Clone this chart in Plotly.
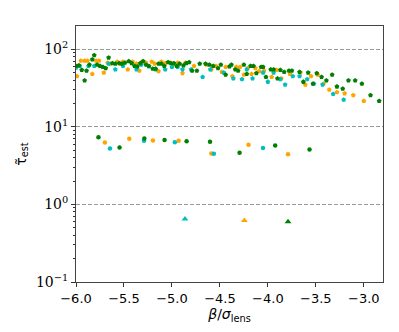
import plotly.graph_objects as go

# top cluster (pentagons)
green_x = [-6.00, -5.97, -5.94, -5.91, -5.89, -5.86, -5.83, -5.81, -5.78, -5.75, -5.72, -5.69, -5.66,
           -5.62, -5.59, -5.55, -5.52, -5.49, -5.45, -5.42, -5.39, -5.36, -5.33, -5.30, -5.27, -5.24,
           -5.20, -5.17, -5.14, -5.11, -5.08, -5.04, -5.01, -4.98, -4.95, -4.92, -4.88, -4.85, -4.82,
           -4.79, -4.74, -4.71, -4.65, -4.61, -4.57, -4.52, -4.49, -4.44, -4.40, -4.38, -4.34, -4.31,
           -4.25, -4.22, -4.18, -4.15, -4.12, -4.07, -4.05, -4.02, -3.97, -3.94, -3.90, -3.87, -3.83,
           -3.78, -3.75, -3.67, -3.63, -3.58, -3.53, -3.49, -3.44, -3.39, -3.33, -3.28, -3.22, -3.16,
           -3.09, -3.02, -2.93, -2.84]
green_y = [61, 62, 54, 39.5, 53, 63, 74, 84, 63, 61, 59, 57, 78,
           66, 65, 66, 65, 67, 70, 66, 61, 60, 66, 70, 63, 61,
           56, 56, 65, 65, 61, 68, 66, 66, 61, 65, 62, 66, 68,
           53, 53, 65, 65, 63, 61, 57, 63, 47, 60, 63, 55, 53,
           63, 48, 61, 61, 49, 59, 59, 44, 55, 55, 42, 54, 51,
           53, 53, 51, 38, 50, 36, 49, 44, 39.5, 47, 33, 31, 39.5,
           39.5, 36, 25.5, 21.5]

orange_x = [-5.99, -5.95, -5.91, -5.88, -5.83, -5.79, -5.76, -5.71, -5.67, -5.64, -5.57, -5.54, -5.51,
            -5.46, -5.41, -5.37, -5.34, -5.31, -5.27, -5.21, -5.18, -5.14, -5.11, -5.07, -5.02, -4.99,
            -4.94, -4.89, -4.86, -4.77, -4.64, -4.59, -4.54, -4.48, -4.44, -4.37, -4.33, -4.29, -4.25,
            -4.21, -4.17, -4.13, -4.09, -4.04, -3.96, -3.91, -3.86, -3.77, -3.66, -3.61, -3.55, -3.48,
            -3.42, -3.36, -3.28, -3.20, -3.11, -3.00]
orange_y = [45, 71, 71, 71, 48, 71, 71, 50, 67, 65, 69, 65, 69,
            55, 69, 65, 53, 69, 67, 69, 65, 52, 69, 66, 67, 63,
            67, 49, 67, 61, 63, 55, 61, 51, 59, 45, 59, 59, 47,
            57, 48, 57, 52, 53, 44, 54, 42, 48, 50, 35, 45, 47,
            36, 30, 28, 27, 25.5, 21.6]

cyan_x = [-6.00, -5.96, -5.87, -5.81, -5.66, -5.59, -5.51, -5.37, -5.32, -5.24, -5.17, -5.07, -5.00,
          -4.94, -4.89, -4.80, -4.68, -4.60, -4.46, -4.36, -4.27, -4.22, -4.16, -4.05, -4.00, -3.94,
          -3.87, -3.82, -3.74, -3.67, -3.59, -3.52, -3.43, -3.32, -3.21]
cyan_y = [58, 61, 61, 61, 65, 55, 61, 55, 63, 60, 55, 55, 59,
          59, 55, 55, 44, 55, 50, 42, 41, 55, 42, 50, 38, 50,
          41, 35, 45, 45, 41, 36, 35, 26.5, 22.3]

# middle cluster (circles)
green_mid_x = [-5.766, -5.546, -5.288, -5.077, -4.847, -4.603, -4.295, -3.924, -3.566]
green_mid_y = [7.36, 5.42, 7.06, 6.79, 6.54, 6.41, 4.63, 5.74, 5.10]
orange_mid_x = [-5.699, -5.445, -5.198, -4.930, -4.589, -4.202, -3.790]
orange_mid_y = [6.28, 7.01, 6.67, 6.61, 4.53, 5.87, 4.45]
cyan_mid_x = [-5.646, -5.291, -4.970, -4.563, -4.051]
cyan_mid_y = [5.26, 6.61, 6.35, 4.49, 5.32]

# bottom (triangles)
cyan_low_x = [-4.864]
cyan_low_y = [0.647]
orange_low_x = [-4.245]
orange_low_y = [0.622]
green_low_x = [-3.790]
green_low_y = [0.597]

ORANGE = '#FFA500'
CYAN = '#00BFBF'
GREEN = '#008000'

fig = go.Figure()


def add(x, y, color, symbol, size):
    fig.add_trace(go.Scatter(x=x, y=y, mode='markers',
                             marker=dict(color=color, symbol=symbol, size=size, line=dict(width=0)),
                             showlegend=False))


add(orange_x, orange_y, ORANGE, 'pentagon', 5)
add(cyan_x, cyan_y, CYAN, 'pentagon', 5)
add(green_x, green_y, GREEN, 'pentagon', 5)
add(orange_mid_x, orange_mid_y, ORANGE, 'circle', 4.5)
add(cyan_mid_x, cyan_mid_y, CYAN, 'circle', 4.5)
add(green_mid_x, green_mid_y, GREEN, 'circle', 4.5)
add(cyan_low_x, cyan_low_y, CYAN, 'triangle-up', 6)
add(orange_low_x, orange_low_y, ORANGE, 'triangle-up', 6)
add(green_low_x, green_low_y, GREEN, 'triangle-up', 6)

# the page body adds an 8px offset, so margins are shifted to compensate
fig.update_layout(
    width=399, height=332,
    margin=dict(l=55, r=24, t=18, b=58),
    plot_bgcolor='white', paper_bgcolor='white',
    font=dict(family='DejaVu Sans', size=13, color='black'),
)
fig.update_xaxes(
    range=[-6, -2.8],
    tickvals=[-6.0, -5.5, -5.0, -4.5, -4.0, -3.5, -3.0],
    ticktext=['−6.0', '−5.5', '−5.0', '−4.5', '−4.0', '−3.5', '−3.0'],
    ticks='outside', ticklen=4, tickcolor='#333',
    showgrid=False, zeroline=False,
    showline=True, linecolor='#444', linewidth=1, mirror=True,
    title=dict(text='<i>β</i>/<i>σ</i><sub>lens</sub>', standoff=4, font=dict(size=14)),
)
fig.update_yaxes(
    type='log', range=[-1, 2.3],
    tickvals=[0.1, 1, 10, 100],
    ticktext=['10<sup>−1</sup>', '10<sup>0</sup>', '10<sup>1</sup>', '10<sup>2</sup>'],
    tickfont=dict(family='DejaVu Serif', size=14),
    ticks='outside', ticklen=4, tickcolor='#333',
    minor=dict(ticks='outside', ticklen=2, tickcolor='#333',
               tickvals=[v * m for v in [0.1, 1, 10, 100] for m in range(2, 10) if v * m < 200],
               showgrid=False),
    showgrid=True, gridcolor='#999', griddash='4px,2px', gridwidth=0.8,
    zeroline=False,
    showline=True, linecolor='#444', linewidth=1, mirror=True,
    title=dict(text='τ̃<sub>est</sub>', standoff=6, font=dict(size=14)),
)

fig.write_html('out.html')
